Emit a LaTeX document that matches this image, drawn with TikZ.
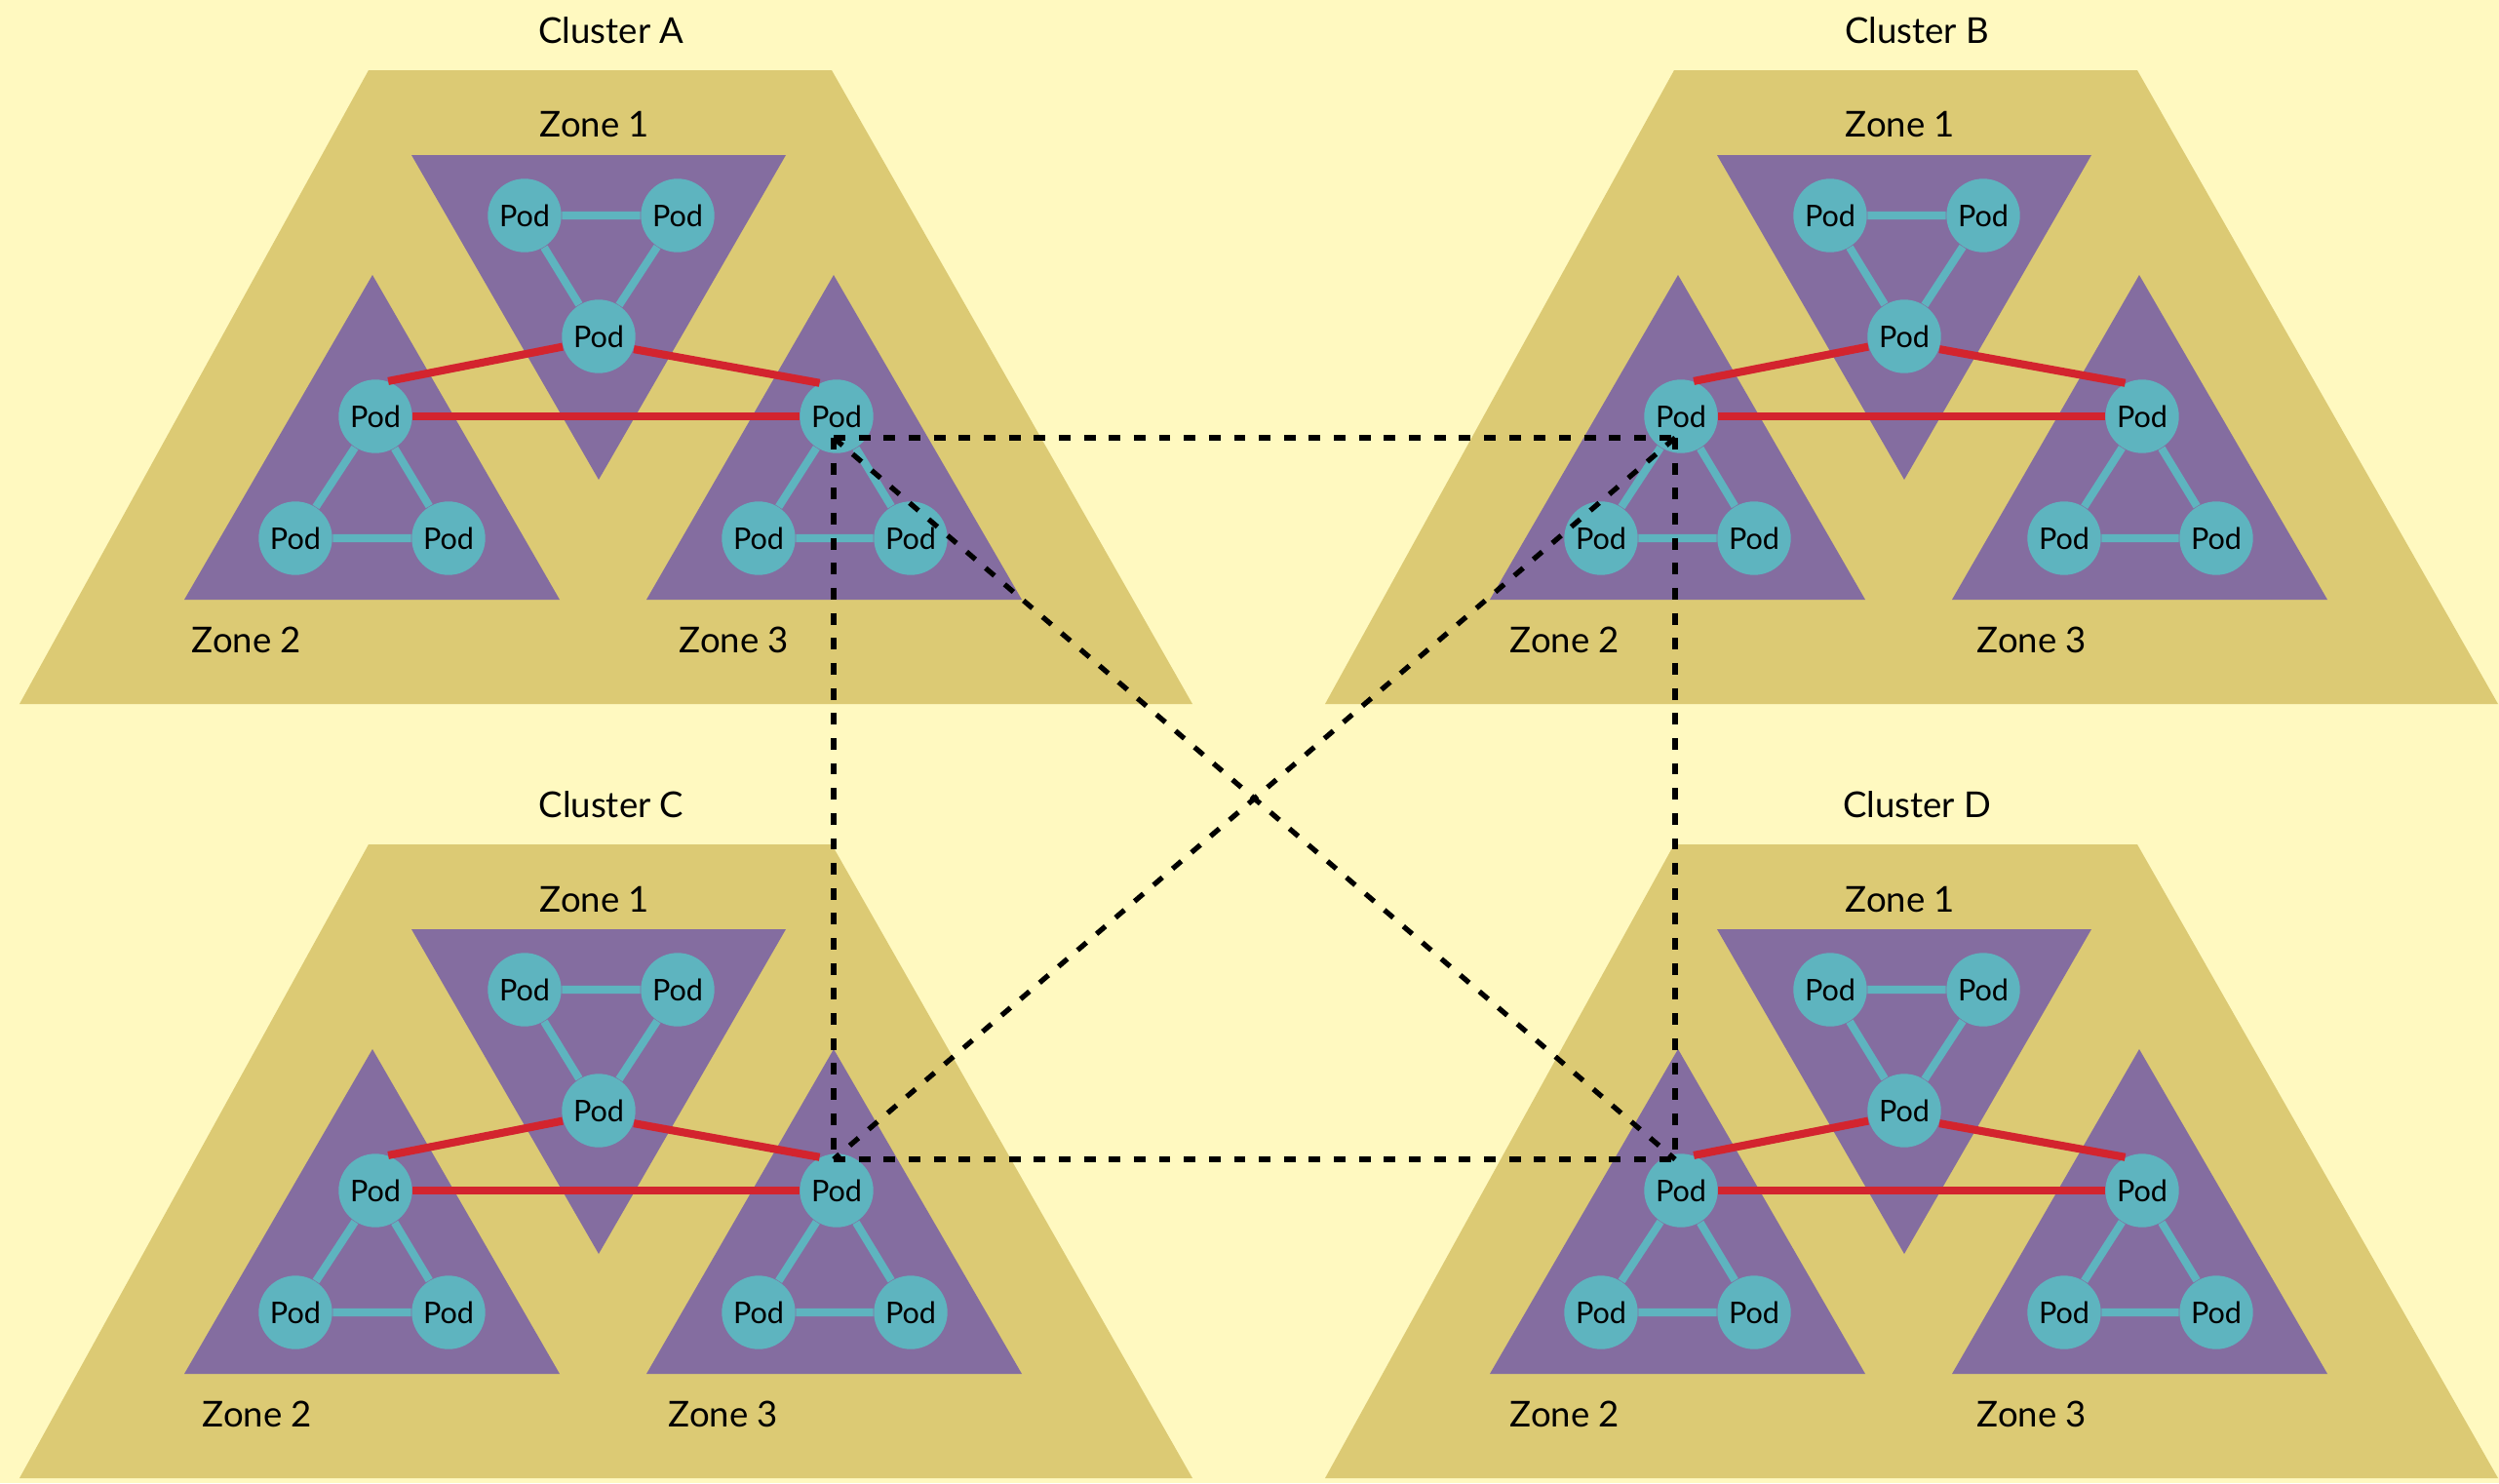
\documentclass[tikz,border=0pt]{standalone}
\usepackage{fontspec}
\setmainfont{Lato}
\usepackage{tikz}
\usetikzlibrary{arrows, arrows.meta}

\definecolor{paper}{HTML}{FFF9C0}
\definecolor{sand}{HTML}{DCCA74}
\definecolor{zonepurple}{HTML}{846DA0}
\definecolor{podteal}{HTML}{5EB4BF}
\definecolor{linkred}{HTML}{D3242E}

\tikzset{
  pod/.style={circle, fill=podteal, minimum size=7.54mm, inner sep=0pt,
    font=\fontsize{8.7}{10}\selectfont},
  podlink/.style={podteal, line width=2.3pt},
  zonelink/.style={linkred, line width=2.3pt},
  clusterlink/.style={black, line width=1.5pt, dash pattern=on 3.4pt off 3.9pt},
  caption/.style={font=\fontsize{10.4}{12}\selectfont}
}

% #1 name, #2 shift, #3 title, #4 x of zone 2 label, #5 x of zone 3 label
\newcommand{\drawcluster}[5]{%
\begin{scope}[shift={(#2)}, name prefix=#1-]
    \fill[sand] (3.78,0.72) -- (8.53,0.72) -- (12.23,7.22) -- (0.20,7.22) -- cycle;
    \fill[zonepurple] (4.22,1.59) -- (8.06,1.59) -- (6.14,4.92) -- cycle;
    \fill[zonepurple] (3.82,2.82) -- (5.74,6.15) -- (1.89,6.15) -- cycle;
    \fill[zonepurple] (8.55,2.82) -- (10.48,6.15) -- (6.63,6.15) -- cycle;

    \node[caption] (title) at (6.27,0.31) {#3};
    \node[caption] (zone1) at (6.10,1.28) {Zone 1};
    \node[caption] (zone2) at (#4,6.56) {Zone 2};
    \node[caption] (zone3) at (#5,6.56) {Zone 3};

    \node[pod] (p1a) at (5.38,2.21) {Pod};
    \node[pod] (p1b) at (6.95,2.21) {Pod};
    \node[pod] (p1c) at (6.14,3.45) {Pod};
    \node[pod] (p2a) at (3.85,4.27) {Pod};
    \node[pod] (p2b) at (3.03,5.52) {Pod};
    \node[pod] (p2c) at (4.60,5.52) {Pod};
    \node[pod] (p3a) at (8.58,4.27) {Pod};
    \node[pod] (p3b) at (7.78,5.52) {Pod};
    \node[pod] (p3c) at (9.34,5.52) {Pod};

    \draw[podlink] (p1a) -- (p1b) -- (p1c) -- (p1a);
    \draw[podlink] (p2a) -- (p2b) -- (p2c) -- (p2a);
    \draw[podlink] (p3a) -- (p3b) -- (p3c) -- (p3a);
    \draw[zonelink] (p2a.70) -- (p1c.196);
    \draw[zonelink] (p1c.340) -- (p3a.117);
    \draw[zonelink] (p2a) -- (p3a);
\end{scope}}

\begin{document}
\begin{tikzpicture}[x=1cm, y=-1cm]

\fill[paper] (0,0) rectangle (25.63,15.21);
\useasboundingbox (0,0) rectangle (25.63,15.21);

\drawcluster{A}{0,0}{Cluster A}{2.53}{7.53}
\drawcluster{B}{13.39,0}{Cluster B}{2.66}{7.45}
\drawcluster{C}{0,7.94}{Cluster C}{2.64}{7.42}
\drawcluster{D}{13.39,7.94}{Cluster D}{2.66}{7.45}

% links between the clusters
\coordinate (gateA) at ([shift={(-0.03,0.22)}]A-p3a.center);
\coordinate (gateB) at ([shift={(-0.06,0.22)}]B-p2a.center);
\coordinate (gateC) at ([shift={(-0.03,-0.32)}]C-p3a.center);
\coordinate (gateD) at ([shift={(-0.06,-0.32)}]D-p2a.center);

\draw[clusterlink] (gateA) -- (gateB);
\draw[clusterlink] (gateC) -- (gateD);
\draw[clusterlink] (gateA) -- (gateC);
\draw[clusterlink] (gateB) -- (gateD);
\draw[clusterlink] (gateA) -- (gateD);
\draw[clusterlink] (gateB) -- (gateC);

\end{tikzpicture}
\end{document}
